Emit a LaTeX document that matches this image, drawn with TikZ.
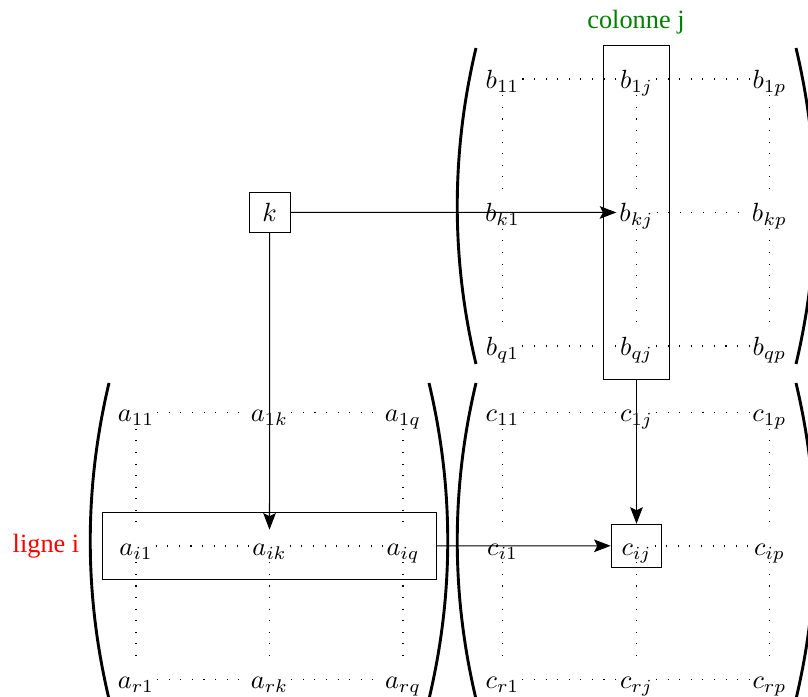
\documentclass[tikz,border=0pt]{standalone}
\usepackage{fontspec}
\newfontfamily\labfont{Liberation Serif}
\usetikzlibrary{arrows.meta}
\definecolor{colgreen}{RGB}{0,128,0}
\begin{document}
\begin{tikzpicture}[x=0.38pt,y=-0.38pt,
  ent/.style={inner sep=1pt, text height=8.5pt, text depth=1.5pt},
  dots/.style={loosely dotted, line width=0.4pt},
  arr/.style={-{Stealth[length=6.3pt,width=4.8pt,inset=1.2pt]}, line width=0.4pt},
  paren/.style={line width=1.1pt},
  frame/.style={draw, line width=0.4pt, inner sep=0pt},
  lab/.style={font=\labfont}]
\useasboundingbox (0,0) rectangle (808,697);
% B matrix
\node[ent] (b11) at (502.5,79) {$b_{11}$};
\node[ent] (b1j) at (636.5,79) {$b_{1j}$};
\node[ent] (b1p) at (769.5,79) {$b_{1p}$};
\node[ent] (bk1) at (502.5,212.5) {$b_{k1}$};
\node[ent] (bkj) at (636.5,212.5) {$b_{kj}$};
\node[ent] (bkp) at (769.5,212.5) {$b_{kp}$};
\node[ent] (bq1) at (502.5,346) {$b_{q1}$};
\node[ent] (bqj) at (636.5,346) {$b_{qj}$};
\node[ent] (bqp) at (769.5,346) {$b_{qp}$};
% A matrix
\node[ent] (a11) at (136,412.5) {$a_{11}$};
\node[ent] (a1k) at (269.5,412.5) {$a_{1k}$};
\node[ent] (a1q) at (403,412.5) {$a_{1q}$};
\node[ent] (ai1) at (136,546) {$a_{i1}$};
\node[ent] (aik) at (269.5,546) {$a_{ik}$};
\node[ent] (aiq) at (403,546) {$a_{iq}$};
\node[ent] (ar1) at (136,679.5) {$a_{r1}$};
\node[ent] (ark) at (269.5,679.5) {$a_{rk}$};
\node[ent] (arq) at (403,679.5) {$a_{rq}$};
% C matrix
\node[ent] (c11) at (502.5,412.5) {$c_{11}$};
\node[ent] (c1j) at (636.5,412.5) {$c_{1j}$};
\node[ent] (c1p) at (769.5,412.5) {$c_{1p}$};
\node[ent] (ci1) at (502.5,546) {$c_{i1}$};
\node[ent] (cij) at (636.5,546) {$c_{ij}$};
\node[ent] (cip) at (769.5,546) {$c_{ip}$};
\node[ent] (cr1) at (502.5,679.5) {$c_{r1}$};
\node[ent] (crj) at (636.5,679.5) {$c_{rj}$};
\node[ent] (crp) at (769.5,679.5) {$c_{rp}$};
% dotted lines
\draw[dots] (b11) -- (b1j); \draw[dots] (b1j) -- (b1p);
\draw[dots] (bkj) -- (bkp);
\draw[dots] (bq1) -- (bqj); \draw[dots] (bqj) -- (bqp);
\draw[dots] (b11) -- (bk1); \draw[dots] (bk1) -- (bq1);
\draw[dots] (b1j) -- (bkj); \draw[dots] (bkj) -- (bqj);
\draw[dots] (b1p) -- (bkp); \draw[dots] (bkp) -- (bqp);
\draw[dots] (a11) -- (a1k); \draw[dots] (a1k) -- (a1q);
\draw[dots] (ai1) -- (aik); \draw[dots] (aik) -- (aiq);
\draw[dots] (ar1) -- (ark); \draw[dots] (ark) -- (arq);
\draw[dots] (a11) -- (ai1); \draw[dots] (ai1) -- (ar1);
\draw[dots] (aik) -- (ark);
\draw[dots] (a1q) -- (aiq); \draw[dots] (aiq) -- (arq);
\draw[dots] (c11) -- (c1j); \draw[dots] (c1j) -- (c1p);
\draw[dots] (cij) -- (cip);
\draw[dots] (cr1) -- (crj); \draw[dots] (crj) -- (crp);
\draw[dots] (c11) -- (ci1); \draw[dots] (ci1) -- (cr1);
\draw[dots] (cij) -- (crj);
\draw[dots] (c1p) -- (cip); \draw[dots] (cip) -- (crp);
% frames
\node[frame, minimum width=40.7*0.38pt, minimum height=40*0.38pt] (k) at (269.7,212.3) {$k$};
\node[frame, minimum width=66.8*0.38pt, minimum height=333.5*0.38pt] (colj) at (636.5,212.7) {};
\node[frame, minimum width=333.6*0.38pt, minimum height=66.6*0.38pt] (ligne) at (269.5,546) {};
\node[frame, minimum width=50.6*0.38pt, minimum height=43*0.38pt] (cijbox) at (636.5,545.8) {};
% parentheses
\draw[paren] (476,48) .. controls (451,153) and (451,259) .. (476,364);
\draw[paren] (796,48) .. controls (821,153) and (821,259) .. (796,364);
\draw[paren] (109,383) .. controls (84,488) and (84,594) .. (109,699);
\draw[paren] (429,383) .. controls (454,488) and (454,594) .. (429,699);
\draw[paren] (476,383) .. controls (451,488) and (451,594) .. (476,699);
\draw[paren] (796,383) .. controls (821,488) and (821,594) .. (796,699);
% arrows
\draw[arr] (k) -- (bkj);
\draw[arr] (k) -- (aik);
\draw[arr] (colj) -- (cijbox);
\draw[arr] (ligne) -- (cijbox);
% labels
\node[lab, text=colgreen] (collab) at (636,22) {colonne j};
\node[lab, text=red] (liglab) at (46,546) {ligne i};
\end{tikzpicture}
\end{document}
